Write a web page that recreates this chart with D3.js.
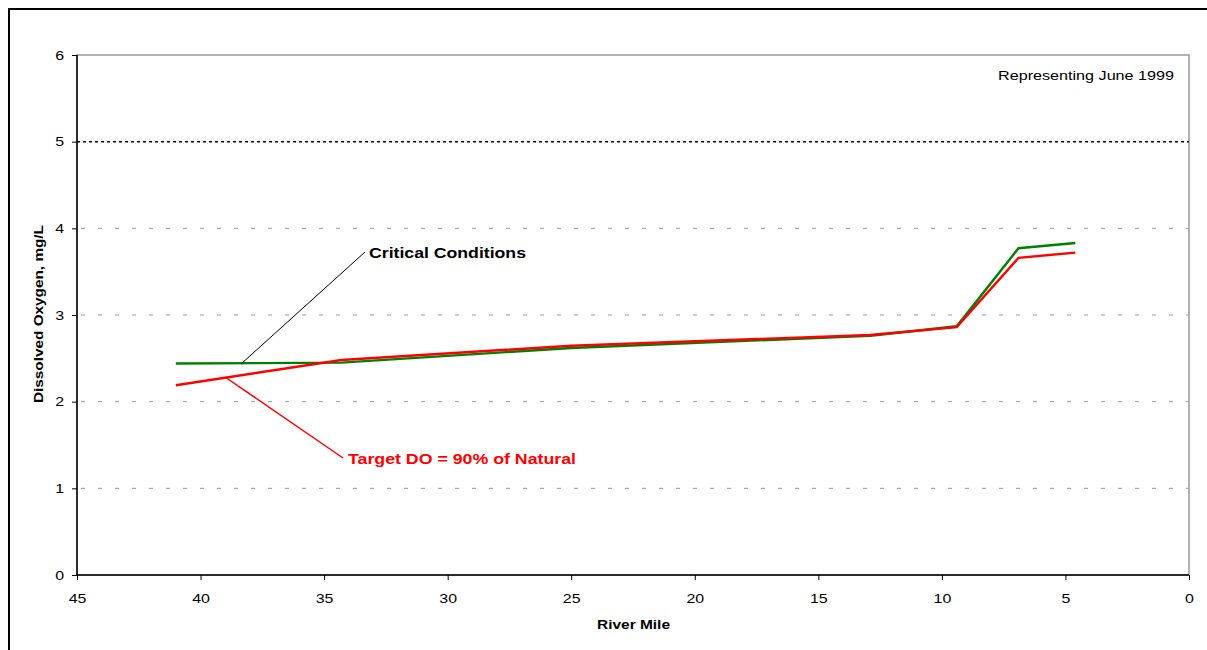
<!DOCTYPE html>
<html><head><meta charset="utf-8">
<script src="https://cdn.jsdelivr.net/npm/d3@7"></script>
<style>body{margin:0;background:#fff;} svg{display:block;font-family:"Liberation Sans",Arial,sans-serif;}</style>
</head><body>
<svg id="c" width="1207" height="650"></svg>
<script>
const riverMiles = [41, 34.3, 25, 12.9, 9.4, 6.9, 4.6];
const criticalDO = [2.44, 2.45, 2.62, 2.76, 2.87, 3.77, 3.83];
const targetDO   = [2.19, 2.48, 2.645, 2.77, 2.86, 3.66, 3.72];
const xTicks = [45, 40, 35, 30, 25, 20, 15, 10, 5, 0];
const yTicks = [0, 1, 2, 3, 4, 5, 6];
const standardDO = 5;

const svg = d3.select("#c");
const L = 77, R = 1189, T = 55, B = 575;
const x = d3.scaleLinear().domain([45, 0]).range([L, R]);
const y = d3.scaleLinear().domain([0, 6]).range([B, T]);

function stretch(sel, f) {
  sel.each(function () {
    const w = this.getComputedTextLength();
    d3.select(this).attr("textLength", w * f).attr("lengthAdjust", "spacingAndGlyphs");
  });
}

// outer frame
svg.append("rect").attr("x", 9).attr("y", 9).attr("width", 1210).attr("height", 660)
  .attr("fill", "none").attr("stroke", "#000").attr("stroke-width", 2);

// plot border (gray)
svg.append("rect").attr("x", L).attr("y", T).attr("width", R - L).attr("height", B - T)
  .attr("fill", "none").attr("stroke", "#999").attr("stroke-width", 1.5);

// gridlines
yTicks.filter(v => v > 0 && v < 6 && v !== standardDO).forEach(v => {
  svg.append("line").attr("x1", L).attr("x2", R).attr("y1", y(v)).attr("y2", y(v))
    .attr("stroke", "#999").attr("stroke-width", 1).attr("stroke-dasharray", "4,13")
    .attr("stroke-dashoffset", -4);
});
svg.append("line").attr("x1", L).attr("x2", R).attr("y1", y(standardDO)).attr("y2", y(standardDO))
  .attr("stroke", "#000").attr("stroke-width", 1.5).attr("stroke-dasharray", "3,3");

// axes
const xAxis = d3.axisBottom(x).tickValues(xTicks).tickSize(5).tickPadding(13).tickFormat(d3.format("d"));
const gx = svg.append("g").attr("transform", `translate(0,${B})`).call(xAxis);
const yAxis = d3.axisLeft(y).tickValues(yTicks).tickSize(5).tickPadding(8).tickFormat(d3.format("d"));
const gy = svg.append("g").attr("transform", `translate(${L},0)`).call(yAxis);
[gx, gy].forEach(g => {
  g.select(".domain").attr("stroke", "#000").attr("stroke-width", 1.5);
  g.selectAll(".tick line").attr("stroke", "#000");
  g.selectAll("text").attr("font-size", 13.5).attr("fill", "#000").attr("font-family", "Liberation Sans, Arial, sans-serif");
  stretch(g.selectAll("text"), 1.18);
});
gx.select(".domain").attr("d", `M${L},0H${R}`);
gy.select(".domain").attr("d", `M0,${B}V${T}`);

// lines
const line = d3.line().x(d => x(d[0])).y(d => y(d[1]));
svg.append("path").datum(riverMiles.map((m, i) => [m, criticalDO[i]]))
  .attr("d", line).attr("fill", "none").attr("stroke", "#008000").attr("stroke-width", 2.4);
svg.append("path").datum(riverMiles.map((m, i) => [m, targetDO[i]]))
  .attr("d", line).attr("fill", "none").attr("stroke", "#ff0000").attr("stroke-width", 2.4);

// annotations
svg.append("line").attr("x1", 241).attr("y1", 364).attr("x2", 365).attr("y2", 252)
  .attr("stroke", "#000").attr("stroke-width", 1);
svg.append("text").attr("x", 369).attr("y", 258).attr("font-size", 15.5).attr("font-weight", "bold")
  .attr("fill", "#000").attr("textLength", 157).attr("lengthAdjust", "spacingAndGlyphs").text("Critical Conditions");
svg.append("line").attr("x1", 225).attr("y1", 377).attr("x2", 343).attr("y2", 458)
  .attr("stroke", "#ff0000").attr("stroke-width", 1.5);
svg.append("text").attr("x", 348).attr("y", 464).attr("font-size", 15.5).attr("font-weight", "bold")
  .attr("fill", "#ff0000").attr("textLength", 228).attr("lengthAdjust", "spacingAndGlyphs").text("Target DO = 90% of Natural");

svg.append("text").attr("x", 998).attr("y", 80).attr("font-size", 13.5)
  .attr("fill", "#000").attr("textLength", 176).attr("lengthAdjust", "spacingAndGlyphs").text("Representing June 1999");

// axis titles
svg.append("text").attr("x", 597).attr("y", 629)
  .attr("font-size", 13).attr("font-weight", "bold").attr("textLength", 73).attr("lengthAdjust", "spacingAndGlyphs").text("River Mile");
svg.append("text").attr("transform", `translate(43,403) rotate(-90)`)
  .attr("font-size", 13).attr("font-weight", "bold").attr("textLength", 178).attr("lengthAdjust", "spacingAndGlyphs").text("Dissolved Oxygen, mg/L");
</script>
</body></html>
